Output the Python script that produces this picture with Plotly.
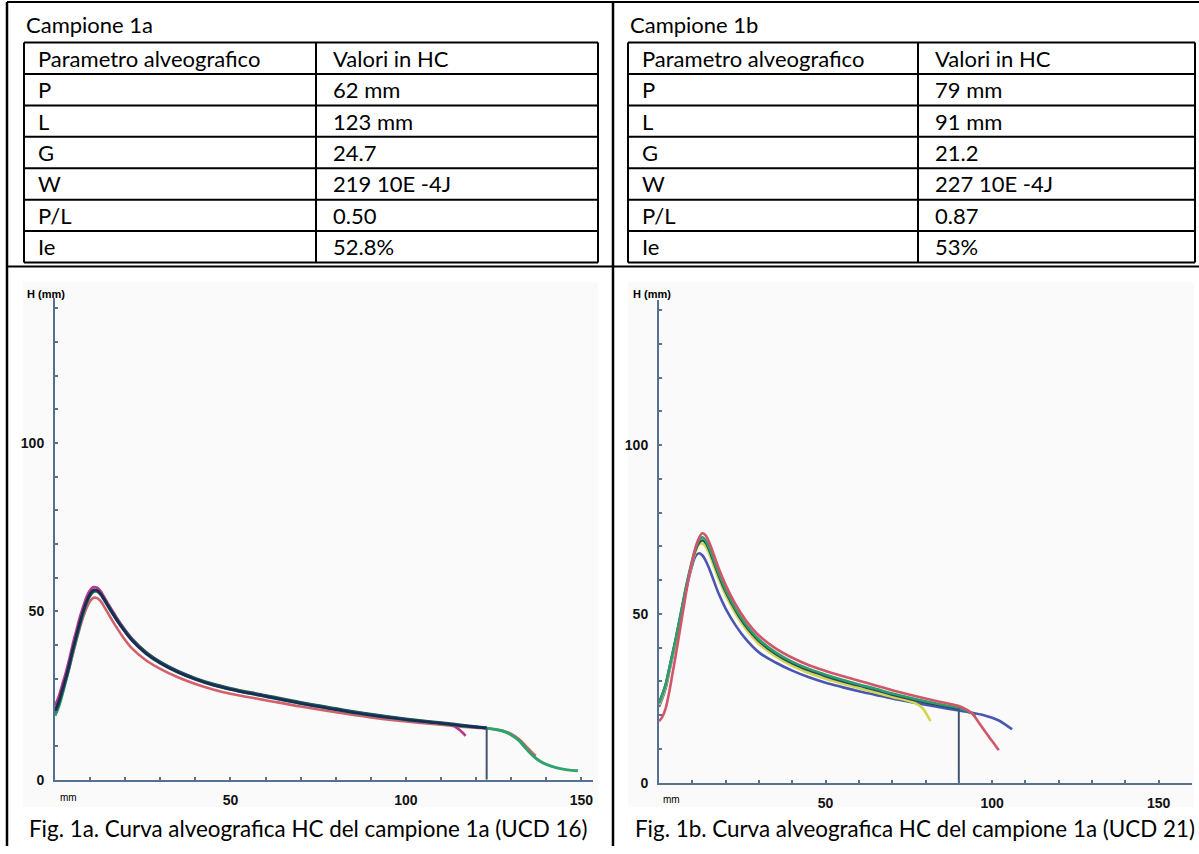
import plotly.graph_objects as go

W, H = 1199, 854

# ---------------- data ----------------
TITLES = ["Campione 1a", "Campione 1b"]
HEADER = ["Parametro alveografico", "Valori in HC"]
PARAMS = ["P", "L", "G", "W", "P/L", "Ie"]
VALUES_1A = ["62 mm", "123 mm", "24.7", "219 10E -4J", "0.50", "52.8%"]
VALUES_1B = ["79 mm", "91 mm", "21.2", "227 10E -4J", "0.87", "53%"]
CAPTIONS = ["Fig. 1a. Curva alveografica HC del campione 1a (UCD 16)",
            "Fig. 1b. Curva alveografica HC del campione 1a (UCD 21)"]

Y_TICKS = list(range(0, 141, 10))
Y_LABELS = {0: "0", 50: "50", 100: "100"}
X_TICKS = list(range(0, 151, 10))
X_LABELS = {50: "50", 100: "100", 150: "150"}

# Sample 1a curves (x in mm, H in mm)
X_1A_NAVY = [0,1,2,3,4,5,6,7,8,9,10,11,12,13,14,15,17,19,22,26,30,35,40,45,50,60,70,80,90,100,110,115,120,123]
Y_1A_NAVY = [20.5,23,26.5,30,34,38.5,42.5,46.5,50,53,55.2,56.3,56.2,55.2,53.6,51.8,48.4,45.3,41.3,37.4,34.6,31.9,29.8,28.1,26.8,24.7,22.6,20.8,19.1,17.8,16.7,16.1,15.6,15.3]
X_1A_TEAL = [0,1,2,3,4,5,6,7,8,9,10,11,12,13,14,15,17,19,22,26,30,35,40,45,50,60,70,80,90,100,110,115,120,123]
Y_1A_TEAL = [19.8,22.3,25.8,29.5,33.5,38,42,46,49.6,52.6,54.9,56,56,55.1,53.6,51.9,48.6,45.5,41.6,37.7,34.9,32.2,30.1,28.4,27.1,25,22.9,21.1,19.4,18,16.9,16.3,15.7,15.4]
X_1A_MAGENTA = [0,1,2,3,4,5,6,7,8,9,10,11,12,13,14,15,17,19,22,26,30,35,40,45,50,60,70,80,90,100,110,113,115,117]
Y_1A_MAGENTA = [22,24.5,28,31.5,35.5,40,44,48,51.3,54.3,56.3,57.2,57,56,54.3,52.5,49.1,45.9,41.8,37.8,34.9,32.1,30,28.3,27,24.9,22.8,21,19.3,17.9,16.8,16.2,15,13]
X_1A_RED = [0,1,2,3,4,5,6,7,8,9,10,11,12,13,14,15,17,19,22,26,30,35,40,45,50,60,70,80,90,100,110,115,120,123,126,128,130,132,134,136,137]
Y_1A_RED = [21,23,26,29.5,33,37,41,44.8,48.2,51,53,54,53.9,53,51.4,49.6,46.1,42.9,38.9,35.4,32.9,30.4,28.4,26.8,25.5,23.6,21.7,20,18.5,17.3,16.3,15.8,15.4,15.2,14.8,14.4,13.6,12.2,10.2,8.0,7.0]
X_1A_GREEN = [0,1,2,3,4,5,6,7,8,9,10,11,12,13,14,15,17,19,22,26,30,35,40,45,50,60,70,80,90,100,110,115,120,123,126,128,130,132,134,136,138,140,143,146,149]
Y_1A_GREEN = [19,21.5,25,29,33,37.5,41.5,45.5,49.2,52.3,54.6,55.8,55.9,55,53.4,51.7,48.4,45.3,41.3,37.4,34.6,31.9,29.8,28.1,26.8,24.7,22.6,20.8,19.1,17.8,16.7,16.1,15.6,15.3,14.8,14.3,13.3,11.8,9.5,7.3,5.6,4.5,3.5,2.9,2.6]
L_1A = 123
L_1A_H = 15.3

# Sample 1b curves
X_1B_RED = [0,1,2,3,4,5,6,7,8,9,10,11,12,13,14,15,16,18,20,23,26,30,35,40,45,50,55,60,65,70,75,80,85,90,92,94,96,98,100,102]
Y_1B_RED = [18.2,19.5,22,26.5,32,37.5,43.5,49.5,55.5,61,65.8,69.8,72.5,73.9,73.3,71.4,68.8,63.3,58.6,52.8,48.2,43.6,39.8,37,34.8,33.1,31.6,30.2,28.8,27.4,26.1,24.9,23.8,22.7,21.8,20.5,17.8,15,12.3,9.6]
X_1B_GREEN = [0,1,2,3,4,5,6,7,8,9,10,11,12,13,14,15,16,18,20,23,26,30,35,40,45,50,55,60,65,70,75,80,85,90,92,94,95]
Y_1B_GREEN = [23.5,26,29,33.5,38,42.5,47.5,52.5,57.5,62,66,69.5,71.8,72.7,71.8,69.8,67.2,61.8,57.2,51.5,47,42.4,38.6,35.8,33.7,32,30.5,29.1,27.8,26.4,25.2,24.1,23.1,22.1,21.5,20.5,19.8]
X_1B_DARK = [0,1,2,3,4,5,6,7,8,9,10,11,12,13,14,15,16,18,20,23,26,30,35,40,45,50,55,60,65,70,75,80,85,90]
Y_1B_DARK = [23.8,26.3,29.3,33.7,38.2,42.7,47.6,52.5,57.4,61.8,65.6,68.9,71,71.8,71,69,66.4,61.1,56.5,50.9,46.4,41.9,38.1,35.3,33.2,31.5,30,28.7,27.4,26,24.8,23.7,22.7,21.8]
X_1B_YELLOW = [0,1,2,3,4,5,6,7,8,9,10,11,12,13,14,15,16,18,20,23,26,30,35,40,45,50,55,60,65,70,75,77,79,80.5,81.5]
Y_1B_YELLOW = [23,25.5,28.5,33,37.5,42,47,52,57,61.3,65.3,68.5,70.6,70.9,70,68,65.4,60.1,55.6,50,45.6,41.1,37.4,34.6,32.5,30.8,29.4,28,26.7,25.4,24.2,23.5,22.2,20,18.2]
X_1B_BLUE = [0,1,2,3,4,5,6,7,8,9,10,11,12,13,14,15,16,18,20,23,26,30,35,40,45,50,55,60,65,70,75,80,85,90,94,97,100,102,104,106]
Y_1B_BLUE = [22.5,25,28,32.5,37,41.5,46.5,51.5,56.5,60.8,64.5,67.2,68,67.4,65.8,63.6,61,55.8,51.6,46.6,42.6,38.6,35.6,33.2,31.2,29.6,28.3,27.1,26,24.9,24,23.1,22.2,21.4,20.7,20.1,19.2,18.4,17.2,15.8]
L_1B = 90
L_1B_H = 22.0

# ---------------- helpers ----------------
def px(x):
    return x / W

def py(y):
    return 1 - y / H

AX = "#56708f"
FONT_TXT = "Lato"
shapes = []
annotations = []

def hline(x0, x1, y, w=2, color="black"):
    shapes.append(dict(type="line", xref="paper", yref="paper", x0=px(x0), x1=px(x1),
                       y0=py(y), y1=py(y), line=dict(color=color, width=w)))

def vline(x, y0, y1, w=2, color="black"):
    shapes.append(dict(type="line", xref="paper", yref="paper", x0=px(x), x1=px(x),
                       y0=py(y0), y1=py(y1), line=dict(color=color, width=w)))

def text(x, y, s, size=20, anchor="left", bold=False, family=FONT_TXT):
    annotations.append(dict(xref="paper", yref="paper", x=px(x), y=py(y), text=s,
                            showarrow=False, xanchor=anchor, yanchor="middle",
                            font=dict(family=family, size=size, color="black",
                                      weight="bold" if bold else "normal")))

# panel backgrounds
for (x0, x1) in [(23, 598), (628, 1194)]:
    shapes.append(dict(type="rect", xref="paper", yref="paper", x0=px(x0), x1=px(x1),
                       y0=py(815), y1=py(285), fillcolor="#fafafa", line=dict(width=0),
                       layer="below"))

# outer grid
hline(7, 1199, 2, 2)
hline(7, 1199, 269, 2)
vline(7, 2, 854, 2.5)
vline(613, 2, 854, 2.5)

# inner tables
row_top = 43
row_h = (265 - 43) / 7
tables = [(24, 316, 598, TITLES[0], VALUES_1A), (628, 918, 1195, TITLES[1], VALUES_1B)]
for (tx0, tcol, tx1, title, vals) in tables:
    text(tx0, 25, title, 22)
    for i in range(8):
        hline(tx0, tx1, row_top + i * row_h, 2)
    vline(tx0, row_top, 265, 2)
    vline(tcol, row_top, 265, 2)
    vline(tx1, row_top, 265, 2)
    rows = [HEADER] + [[p, v] for p, v in zip(PARAMS, vals)]
    for i, (a, b) in enumerate(rows):
        yc = row_top + (i + 0.5) * row_h
        text(tx0 + 12, yc, a, 22)
        text(tcol + 15, yc, b, 22)

# captions
text(308, 836, CAPTIONS[0], 22.4, anchor="center")
text(915, 836, CAPTIONS[1], 22.4, anchor="center")

# axis annotations
text(46, 297, "H (mm)", 11, anchor="center", bold=True, family="Liberation Sans")
text(652, 297, "H (mm)", 11, anchor="center", bold=True, family="Liberation Sans")
text(68, 805, "mm", 10, anchor="center", family="Liberation Sans")
text(672, 807, "mm", 10, anchor="center", family="Liberation Sans")

# ---------------- figure ----------------
fig = go.Figure()

def add_curve(x, y, color, xa, ya, w=2.6):
    fig.add_trace(go.Scatter(x=x, y=y, mode="lines", xaxis=xa, yaxis=ya,
                             line=dict(color=color, width=w, shape="spline", smoothing=1.0),
                             hoverinfo="skip", showlegend=False))

add_curve(X_1A_RED, Y_1A_RED, "#d4606c", "x", "y")
add_curve(X_1A_MAGENTA, Y_1A_MAGENTA, "#b83a86", "x", "y")
add_curve(X_1A_GREEN, Y_1A_GREEN, "#2fa36c", "x", "y", 3)
add_curve(X_1A_TEAL, Y_1A_TEAL, "#1f5c52", "x", "y", 3)
add_curve(X_1A_NAVY, Y_1A_NAVY, "#1c2a58", "x", "y", 2.6)
fig.add_trace(go.Scatter(x=[L_1A, L_1A], y=[0, L_1A_H], mode="lines", xaxis="x", yaxis="y",
                         line=dict(color="#44566e", width=2), hoverinfo="skip", showlegend=False))

add_curve(X_1B_BLUE, Y_1B_BLUE, "#4a56b2", "x2", "y2")
add_curve(X_1B_YELLOW, Y_1B_YELLOW, "#d2d64c", "x2", "y2")
add_curve(X_1B_DARK, Y_1B_DARK, "#24485e", "x2", "y2", 2.2)
add_curve(X_1B_GREEN, Y_1B_GREEN, "#2e9c6c", "x2", "y2")
add_curve(X_1B_RED, Y_1B_RED, "#d2566a", "x2", "y2")
fig.add_trace(go.Scatter(x=[L_1B, L_1B], y=[0, L_1B_H], mode="lines", xaxis="x2", yaxis="y2",
                         line=dict(color="#44566e", width=2), hoverinfo="skip", showlegend=False))

tickfont = dict(family="Liberation Sans", size=14, color="#111111", weight="bold")

def xaxis(dom, rng, anchor):
    return dict(domain=[px(dom[0]), px(dom[1])], range=rng, anchor=anchor,
                showline=True, linecolor=AX, linewidth=2, ticks="inside", ticklen=3,
                tickwidth=2, tickcolor=AX, tickmode="array", tickvals=X_TICKS,
                ticktext=[X_LABELS.get(v, "") for v in X_TICKS], showgrid=False,
                zeroline=False, tickfont=tickfont, ticklabelstandoff=7)

def yaxis(dom, rng, anchor):
    return dict(domain=[py(dom[1]), py(dom[0])], range=rng, anchor=anchor,
                showline=True, linecolor=AX, linewidth=2, ticks="inside", ticklen=3,
                tickwidth=2, tickcolor=AX, tickmode="array", tickvals=Y_TICKS,
                ticktext=[Y_LABELS.get(v, "") for v in Y_TICKS], showgrid=False,
                zeroline=False, tickfont=tickfont, ticklabelstandoff=6)

fig.update_layout(
    width=W, height=H, margin=dict(l=0, r=0, t=0, b=0),
    paper_bgcolor="white", plot_bgcolor="rgba(0,0,0,0)",
    showlegend=False,
    xaxis=xaxis((55, 593), [0, 153.3], "y"),
    yaxis=yaxis((301, 787), [0, 143], "x"),
    xaxis2=xaxis((659, 1192), [0, 160], "y2"),
    yaxis2=yaxis((303, 790), [0, 143], "x2"),
    shapes=shapes, annotations=annotations,
)

fig.write_html("out.html")
